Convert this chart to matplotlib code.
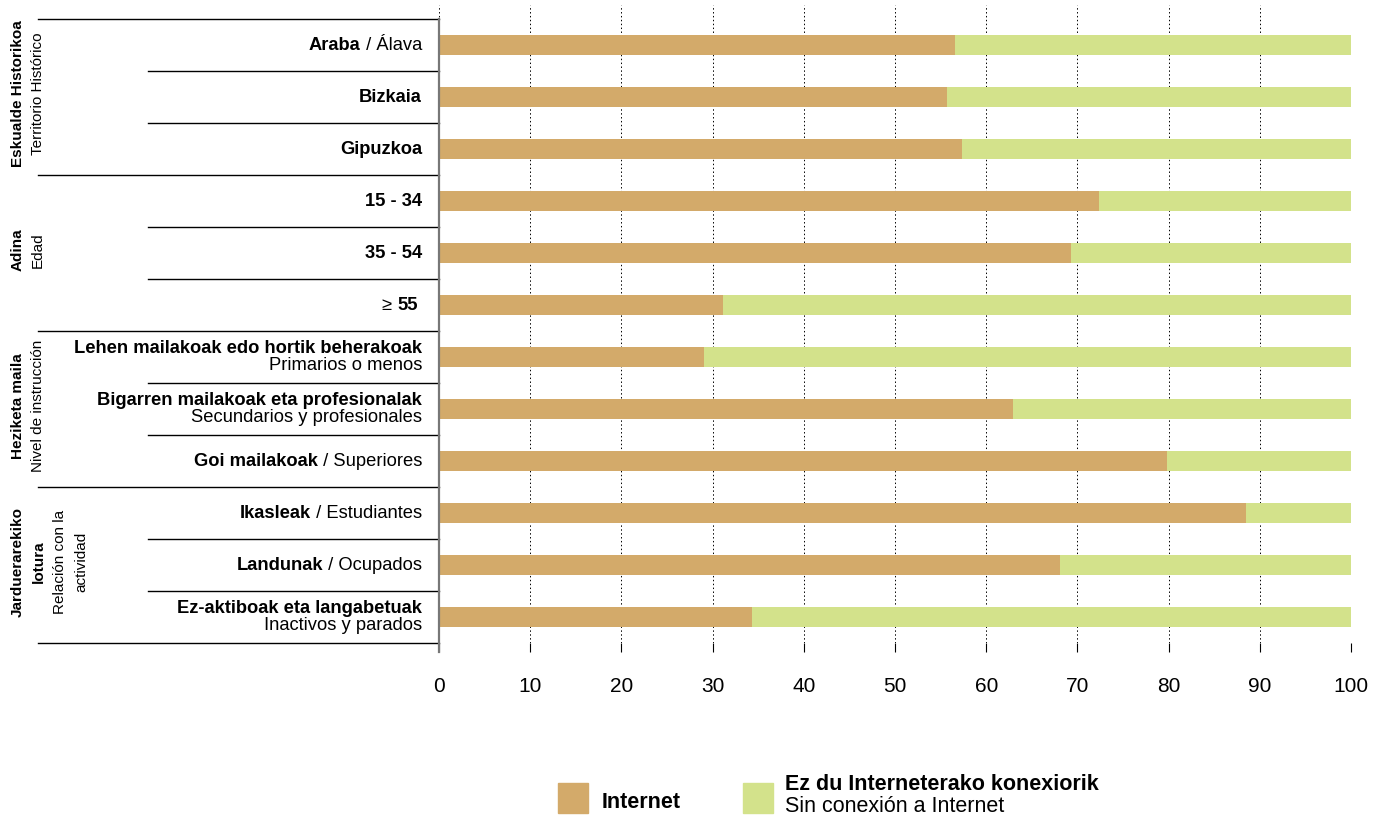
import matplotlib
matplotlib.use('Agg')
import numpy as np
from matplotlib import pyplot as plt
from matplotlib import transforms
from matplotlib.lines import Line2D
from matplotlib.patches import Rectangle
from matplotlib.offsetbox import TextArea, HPacker, AnnotationBbox

plt.rcParams['font.family'] = ['Liberation Sans', 'DejaVu Sans']

# data
internet = [56.6, 55.7, 57.3, 72.4, 69.3, 31.1, 29.1, 62.9, 79.8, 88.5, 68.1, 34.3]
# row labels: (bold part, regular part, layout)
row_labels = [
    ('Araba', ' / Álava', 'inline'),
    ('Bizkaia', '', 'inline'),
    ('Gipuzkoa', '', 'inline'),
    ('15 - 34', '', 'inline'),
    ('35 - 54', '', 'inline'),
    ('55', '≥ ', 'pre'),
    ('Lehen mailakoak edo hortik beherakoak', 'Primarios o menos', 'two'),
    ('Bigarren mailakoak eta profesionalak', 'Secundarios y profesionales', 'two'),
    ('Goi mailakoak', ' / Superiores', 'inline'),
    ('Ikasleak', ' / Estudiantes', 'inline'),
    ('Landunak', ' / Ocupados', 'inline'),
    ('Ez-aktiboak eta langabetuak', 'Inactivos y parados', 'two'),
]
groups = [
    (['Eskualde Historikoa'], ['Territorio Histórico'], 0, 2),
    (['Adina'], ['Edad'], 3, 5),
    (['Heziketa maila'], ['Nivel de instrucción'], 6, 8),
    (['Jarduerarekiko', 'lotura'], ['Relación con la', 'actividad'], 9, 11),
]
xticks = [0, 10, 20, 30, 40, 50, 60, 70, 80, 90, 100]
legend_labels = ['Internet', 'Ez du Interneterako konexiorik', 'Sin conexión a Internet']

C_NET = '#D3AA6A'
C_OFF = '#D3E28B'
FS = 13.2

W, H = 1383, 817
fig = plt.figure(figsize=(W / 100, H / 100), dpi=100)


def fx(px):
    return px / W


def fy(py):
    return 1 - py / H


n = len(internet)
ax = fig.add_axes([fx(439), fy(643), fx(1351) - fx(439), fy(5) - fy(643)])
y = np.arange(n)
net = np.array(internet)
ax.barh(y, net, height=0.39, color=C_NET, zorder=3)
ax.barh(y, 100 - net, left=net, height=0.39, color=C_OFF, zorder=3)
ax.set_xlim(0, 100)
ax.set_ylim(n - 0.5, -0.77)
for s in ax.spines.values():
    s.set_visible(False)
ax.set_yticks([])
ax.set_xticks(xticks)
ax.set_xticklabels([str(t) for t in xticks], fontsize=15)
ax.tick_params(axis='x', direction='out', length=6.5, width=0.8, color='black', pad=18)
ax.grid(True, axis='x', color='black', linestyle=(0, (1.5, 2.5)), linewidth=0.7, zorder=0)

# vertical axis line
fig.add_artist(Line2D([fx(439), fx(439)], [fy(19), fy(652)], color='#777777', lw=1.6))

# separator lines
blend = transforms.blended_transform_factory(fig.transFigure, ax.transData)
group_edges = set([-0.5] + [g[3] + 0.5 for g in groups])
for k in range(n + 1):
    yy = k - 0.5
    x0 = fx(38) if yy in group_edges else fx(148)
    ax.add_line(Line2D([x0, fx(439)], [yy, yy], transform=blend, color='black',
                       lw=1.0, clip_on=False))

# row labels
for i, (b, r, kind) in enumerate(row_labels):
    if kind == 'two':
        ax.text(fx(422), i - 0.17, b, transform=blend, ha='right', va='center',
                fontsize=FS, fontweight='bold')
        ax.text(fx(422), i + 0.17, r, transform=blend, ha='right', va='center',
                fontsize=FS)
        continue
    if kind == 'pre':
        parts = [TextArea(r, textprops=dict(fontsize=FS)),
                 TextArea(b, textprops=dict(fontsize=FS, fontweight='bold'))]
        xr = fx(418)
    else:
        parts = [TextArea(b, textprops=dict(fontsize=FS, fontweight='bold'))]
        if r:
            parts.append(TextArea(r, textprops=dict(fontsize=FS)))
        xr = fx(422)
    box = HPacker(children=parts, align='baseline', pad=0, sep=0)
    ab = AnnotationBbox(box, (xr, i), xycoords=blend, box_alignment=(1, 0.5),
                        frameon=False, pad=0, annotation_clip=False)
    ax.add_artist(ab)

# group labels
for bold_lines, reg_lines, a, b in groups:
    yc = (a + b) / 2 - 0.06
    lines = [(t, 'bold') for t in bold_lines] + [(t, 'normal') for t in reg_lines]
    xs = [18 + 21 * j for j in range(len(lines))] if len(lines) > 2 else [18, 38]
    for (t, w), xp in zip(lines, xs):
        ax.text(fx(xp), yc, t, transform=blend, rotation=90, ha='center', va='center',
                fontsize=11, fontweight=w)

# legend
fig.add_artist(Rectangle((fx(558), fy(813)), fx(30), 30 / H, color=C_NET, transform=fig.transFigure))
fig.add_artist(Rectangle((fx(743), fy(813)), fx(30), 30 / H, color=C_OFF, transform=fig.transFigure))
fig.text(fx(602), fy(803), legend_labels[0], fontsize=15.5, fontweight='bold', va='center')
fig.text(fx(785), fy(784), legend_labels[1], fontsize=15.5, fontweight='bold', va='center')
fig.text(fx(785), fy(806), legend_labels[2], fontsize=15.5, va='center')

fig.savefig('out.png', dpi=100)
